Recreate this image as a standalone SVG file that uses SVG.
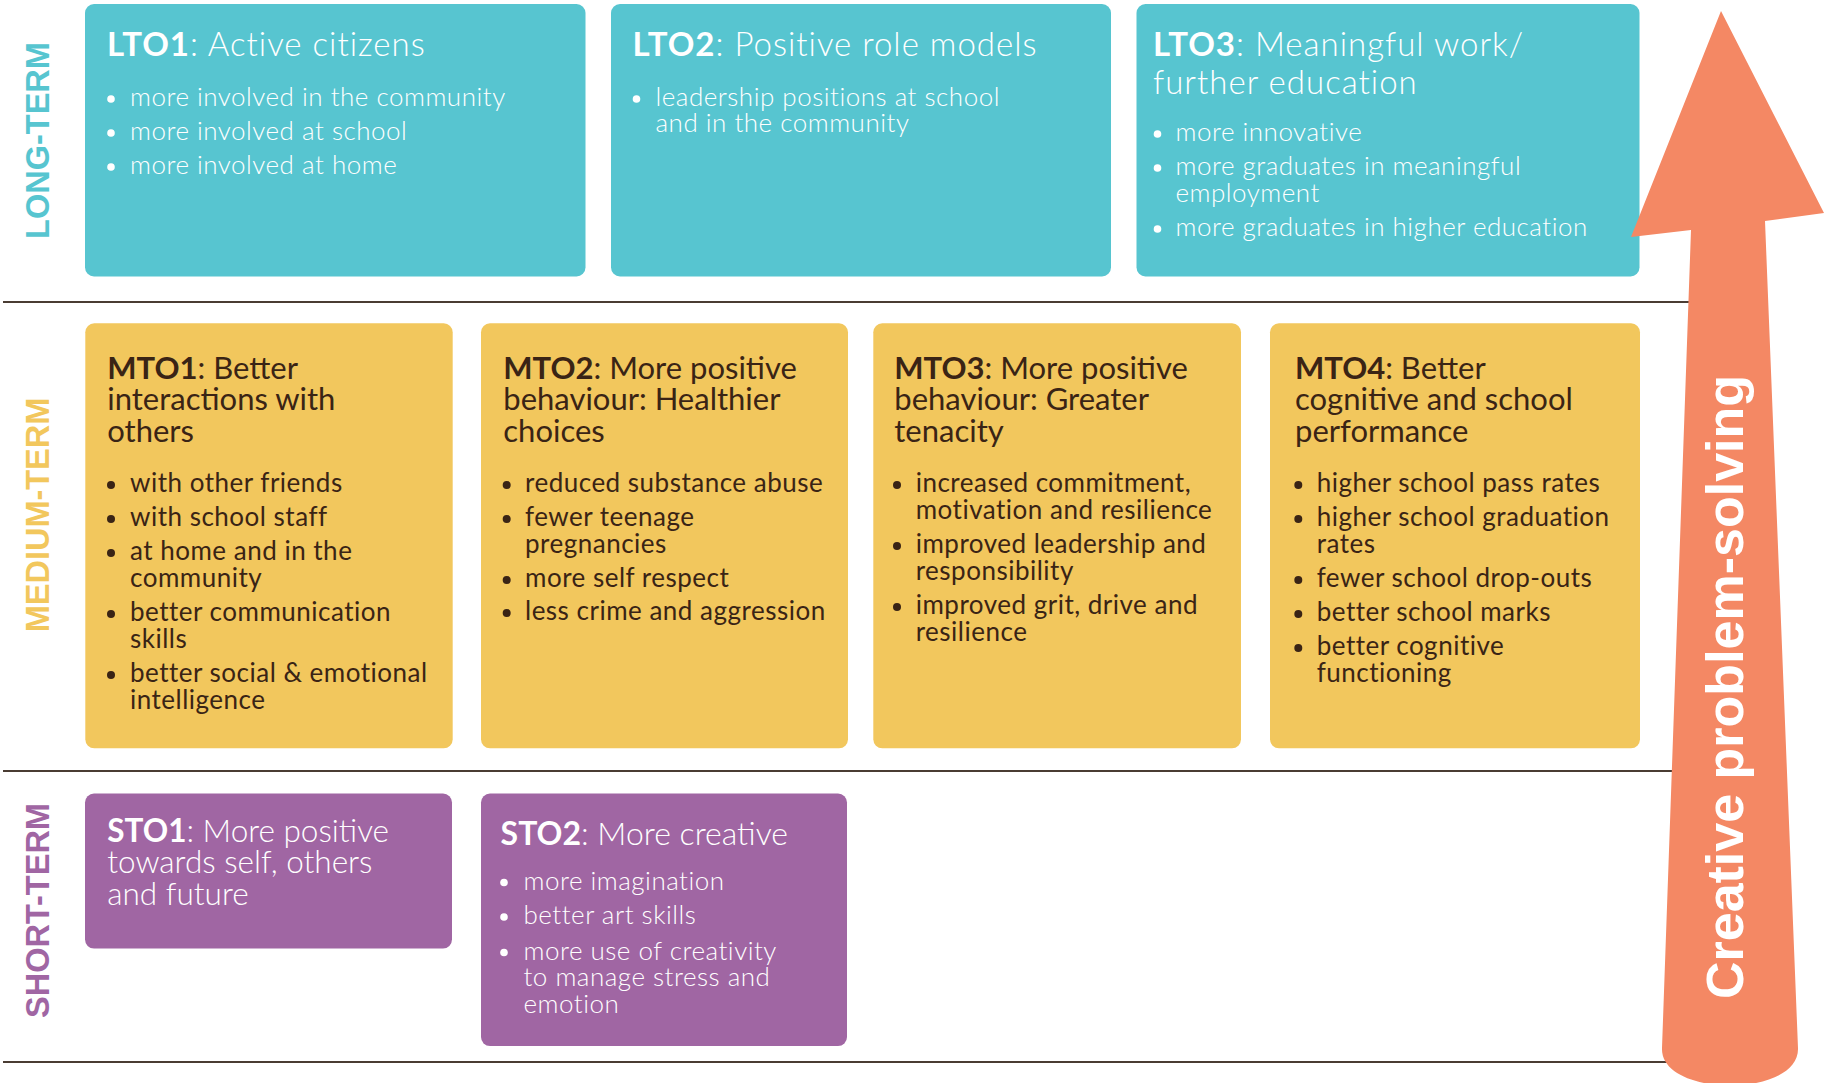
<svg xmlns="http://www.w3.org/2000/svg" width="1825" height="1083" viewBox="0 0 1825 1083">
<style>
  .bg{fill:#ffffff}
  .lt{fill:#57C5D0}
  .mt{fill:#F2C75D}
  .st{fill:#A066A3}
  .rule{stroke:#4a3c33;stroke-width:2}
  .side{font-family:"Liberation Sans",Arial,sans-serif;font-weight:700;font-size:32.5px}
  .tw{font-family:Lato,"Open Sans",sans-serif;font-weight:300;fill:#ffffff}
  .td{font-family:Lato,"Open Sans",sans-serif;font-weight:400;fill:#3A2415}
  .ttl{font-size:33px;letter-spacing:1px}
  .sttl{font-size:31.5px}
  .mttl{font-size:31px}
  .blt{font-size:26px;letter-spacing:0.5px}
  .b{font-weight:700}
  .dw{fill:#ffffff}
  .dd{fill:#3A2415}
  .arrowtxt{font-family:"Liberation Sans",Arial,sans-serif;font-weight:700;font-size:52px;fill:#ffffff}
</style>
<rect class="bg" x="0" y="0" width="1825" height="1083"/>

<g id="rules">
  <line class="rule" x1="3" y1="302" x2="1700" y2="302"/>
  <line class="rule" x1="3" y1="771" x2="1700" y2="771"/>
  <line class="rule" x1="3" y1="1062" x2="1700" y2="1062"/>
</g>

<g id="labels">
  <text class="side" fill="#57C5D0" text-anchor="middle" transform="translate(48.5,140.5) rotate(-90)">LONG-TERM</text>
  <text class="side" fill="#F2C75D" text-anchor="middle" transform="translate(48.5,515) rotate(-90)">MEDIUM-TERM</text>
  <text class="side" fill="#A066A3" text-anchor="middle" transform="translate(48.5,910.5) rotate(-90)">SHORT-TERM</text>
</g>

<g id="LTO1">
  <rect class="lt" x="85" y="4" width="500.5" height="272.5" rx="9"/>
  <text class="tw ttl" x="107" y="56"><tspan class="b">LTO1</tspan>: Active citizens</text>
  <circle class="dw" cx="111" cy="99" r="3.8"/><text class="tw blt" x="130" y="106">more involved in the community</text>
  <circle class="dw" cx="111" cy="133" r="3.8"/><text class="tw blt" x="130" y="140">more involved at school</text>
  <circle class="dw" cx="111" cy="167" r="3.8"/><text class="tw blt" x="130" y="174">more involved at home</text>
</g>

<g id="LTO2">
  <rect class="lt" x="611" y="4" width="500" height="272.5" rx="9"/>
  <text class="tw ttl" x="632.5" y="56"><tspan class="b">LTO2</tspan>: Positive role models</text>
  <circle class="dw" cx="636.5" cy="99" r="3.8"/>
  <text class="tw blt" x="655.5" y="106">leadership positions at school<tspan x="655.5" dy="26">and in the community</tspan></text>
</g>

<g id="LTO3">
  <rect class="lt" x="1136.5" y="4" width="503" height="272.5" rx="9"/>
  <text class="tw ttl" x="1153" y="56"><tspan class="b">LTO3</tspan>: Meaningful work/<tspan x="1153" dy="38">further education</tspan></text>
  <circle class="dw" cx="1157.5" cy="134" r="3.8"/><text class="tw blt" x="1175.5" y="141">more innovative</text>
  <circle class="dw" cx="1157.5" cy="168" r="3.8"/>
  <text class="tw blt" x="1175.5" y="175">more graduates in meaningful<tspan x="1175.5" dy="26.5">employment</tspan></text>
  <circle class="dw" cx="1157.5" cy="229" r="3.8"/><text class="tw blt" x="1175.5" y="236">more graduates in higher education</text>
</g>

<g id="MTO1">
  <rect class="mt" x="85.3" y="323.3" width="367.4" height="425" rx="9"/>
  <text class="td mttl" x="107.3" y="378.5"><tspan class="b">MTO1</tspan>: Better<tspan x="107.3" dy="31.5">interactions with</tspan><tspan x="107.3" dy="31.5">others</tspan></text>
  <circle class="dd" cx="111" cy="485" r="4"/><text class="td blt" x="130" y="492">with other friends</text>
  <circle class="dd" cx="111" cy="519" r="4"/><text class="td blt" x="130" y="526">with school staff</text>
  <circle class="dd" cx="111" cy="553" r="4"/><text class="td blt" x="130" y="560">at home and in the<tspan x="130" dy="27">community</tspan></text>
  <circle class="dd" cx="111" cy="614" r="4"/><text class="td blt" x="130" y="621">better communication<tspan x="130" dy="27">skills</tspan></text>
  <circle class="dd" cx="111" cy="675" r="4"/><text class="td blt" x="130" y="682">better social &amp; emotional<tspan x="130" dy="27">intelligence</tspan></text>
</g>

<g id="MTO2">
  <rect class="mt" x="481" y="323.3" width="367" height="425" rx="9"/>
  <text class="td mttl" x="503.3" y="378.5"><tspan class="b">MTO2</tspan>: More positive<tspan x="503.3" dy="31.5">behaviour: Healthier</tspan><tspan x="503.3" dy="31.5">choices</tspan></text>
  <circle class="dd" cx="506.7" cy="485" r="4"/><text class="td blt" x="525" y="492">reduced substance abuse</text>
  <circle class="dd" cx="506.7" cy="519" r="4"/><text class="td blt" x="525" y="526">fewer teenage<tspan x="525" dy="27">pregnancies</tspan></text>
  <circle class="dd" cx="506.7" cy="580" r="4"/><text class="td blt" x="525" y="587">more self respect</text>
  <circle class="dd" cx="506.7" cy="613" r="4"/><text class="td blt" x="525" y="620">less crime and aggression</text>
</g>

<g id="MTO3">
  <rect class="mt" x="873.3" y="323.3" width="367.7" height="425" rx="9"/>
  <text class="td mttl" x="894.3" y="378.5"><tspan class="b">MTO3</tspan>: More positive<tspan x="894.3" dy="31.5">behaviour: Greater</tspan><tspan x="894.3" dy="31.5">tenacity</tspan></text>
  <circle class="dd" cx="897" cy="485" r="4"/><text class="td blt" x="915.7" y="492">increased commitment,<tspan x="915.7" dy="27">motivation and resilience</tspan></text>
  <circle class="dd" cx="897" cy="546" r="4"/><text class="td blt" x="915.7" y="553">improved leadership and<tspan x="915.7" dy="27">responsibility</tspan></text>
  <circle class="dd" cx="897" cy="607" r="4"/><text class="td blt" x="915.7" y="614">improved grit, drive and<tspan x="915.7" dy="27">resilience</tspan></text>
</g>

<g id="MTO4">
  <rect class="mt" x="1270" y="323.3" width="370" height="425" rx="9"/>
  <text class="td mttl" x="1295" y="378.5"><tspan class="b">MTO4</tspan>: Better<tspan x="1295" dy="31.5">cognitive and school</tspan><tspan x="1295" dy="31.5">performance</tspan></text>
  <circle class="dd" cx="1298.3" cy="485" r="4"/><text class="td blt" x="1316.7" y="492">higher school pass rates</text>
  <circle class="dd" cx="1298.3" cy="519" r="4"/><text class="td blt" x="1316.7" y="526">higher school graduation<tspan x="1316.7" dy="27">rates</tspan></text>
  <circle class="dd" cx="1298.3" cy="580" r="4"/><text class="td blt" x="1316.7" y="587">fewer school drop-outs</text>
  <circle class="dd" cx="1298.3" cy="614" r="4"/><text class="td blt" x="1316.7" y="621">better school marks</text>
  <circle class="dd" cx="1298.3" cy="648" r="4"/><text class="td blt" x="1316.7" y="655">better cognitive<tspan x="1316.7" dy="27">functioning</tspan></text>
</g>

<g id="STO1">
  <rect class="st" x="85" y="793.6" width="367" height="155" rx="9"/>
  <text class="tw sttl" x="107.3" y="841.5"><tspan class="b">STO1</tspan>: More positive<tspan x="107.3" dy="31.5">towards self, others</tspan><tspan x="107.3" dy="31.5">and future</tspan></text>
</g>

<g id="STO2">
  <rect class="st" x="481" y="793.6" width="366" height="252.5" rx="9"/>
  <text class="tw sttl" x="500.6" y="844.5" style="font-size:32px"><tspan class="b">STO2</tspan>: More creative</text>
  <circle class="dw" cx="504" cy="882.5" r="3.8"/><text class="tw blt" x="523.5" y="889.5">more imagination</text>
  <circle class="dw" cx="504" cy="917" r="3.8"/><text class="tw blt" x="523.5" y="924">better art skills</text>
  <circle class="dw" cx="504" cy="952.5" r="3.8"/><text class="tw blt" x="523.5" y="959.5">more use of creativity<tspan x="523.5" dy="26">to manage stress and</tspan><tspan x="523.5" dy="27">emotion</tspan></text>
</g>

<g id="arrow">
  <path fill="#F48864" d="M1721,11 L1824,213 L1765,221 L1798,1048 C1800,1098 1660,1098 1662,1048 L1691,230 L1631,237 Z"/>
  <text class="arrowtxt" text-anchor="middle" transform="translate(1743,687) rotate(-90)">Creative problem-solving</text>
</g>
</svg>
